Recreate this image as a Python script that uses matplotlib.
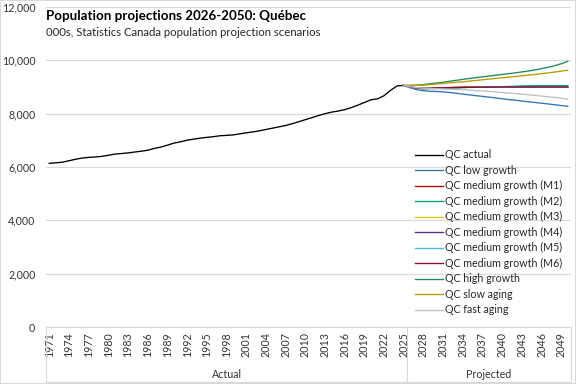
import matplotlib
matplotlib.use("Agg")
import matplotlib.pyplot as plt
from matplotlib.lines import Line2D
from matplotlib.patches import Rectangle
import numpy as np

plt.rcParams['font.family'] = ['Lato', 'DejaVu Sans']

# ---------------- data (thousands) ----------------
years = list(range(1971, 2051))
actual_years = list(range(1971, 2026))
actual = [6137, 6157, 6181, 6234, 6290, 6335, 6360, 6376, 6399, 6438,
          6484, 6505, 6528, 6561, 6592, 6628, 6696, 6747, 6819, 6896,
          6945, 7005, 7045, 7082, 7111, 7137, 7172, 7187, 7203, 7242,
          7281, 7316, 7356, 7407, 7455, 7506, 7555, 7623, 7696, 7774,
          7850, 7928, 7998, 8057, 8097, 8150, 8226, 8317, 8417, 8520,
          8555, 8672, 8873, 9040, 9060]

proj_years = list(range(2025, 2051))
low_growth = [9060, 8970, 8900, 8860, 8840, 8830, 8820, 8795, 8765, 8735,
              8705, 8675, 8650, 8620, 8590, 8560, 8530, 8505, 8475, 8445,
              8420, 8390, 8365, 8335, 8305, 8280]
med_m1 = [9060, 9000, 8960, 8945, 8950, 8960, 8970, 8975, 8980, 8985,
          8990, 8990, 8995, 8995, 9000, 9000, 9000, 9000, 9000, 9000,
          9000, 9000, 9000, 9000, 9000, 9000]
med_m2 = [9060, 9005, 8965, 8950, 8955, 8965, 8975, 8980, 8985, 8990,
          8995, 8995, 9000, 9005, 9010, 9015, 9020, 9030, 9040, 9045,
          9050, 9050, 9050, 9050, 9050, 9050]
med_m3 = [9060, 9002, 8962, 8948, 8952, 8962, 8972, 8977, 8982, 8987,
          8992, 8992, 8996, 8996, 9000, 9000, 9000, 9000, 9000, 9000,
          9000, 9000, 9000, 9000, 9000, 9000]
med_m4 = [9060, 8998, 8958, 8944, 8948, 8958, 8968, 8974, 8979, 8984,
          8989, 8990, 8994, 8995, 8998, 8999, 9000, 9000, 9000, 9000,
          9000, 9000, 9000, 9000, 9000, 9000]
med_m5 = [9060, 8990, 8945, 8930, 8935, 8945, 8955, 8962, 8970, 8976,
          8982, 8985, 8990, 8992, 8995, 8997, 8998, 8999, 9000, 9000,
          9000, 9000, 9000, 9000, 9000, 9000]
med_m6 = [9060, 9000, 8960, 8946, 8950, 8960, 8970, 8975, 8980, 8985,
          8990, 8990, 8995, 8995, 9000, 9000, 9000, 9000, 9000, 9000,
          9000, 9000, 9000, 9000, 9000, 9000]
high_growth = [9060, 9060, 9070, 9090, 9120, 9150, 9180, 9215, 9250, 9285,
               9320, 9350, 9380, 9410, 9440, 9470, 9500, 9530, 9565, 9600,
               9640, 9690, 9740, 9800, 9870, 9960]
slow_aging = [9060, 9055, 9060, 9070, 9090, 9110, 9135, 9155, 9175, 9195,
              9220, 9245, 9270, 9295, 9320, 9345, 9370, 9395, 9420, 9445,
              9470, 9500, 9530, 9560, 9595, 9630]
fast_aging = [9060, 9010, 8975, 8955, 8945, 8935, 8925, 8915, 8905, 8895,
              8880, 8865, 8850, 8835, 8815, 8795, 8775, 8755, 8735, 8710,
              8685, 8660, 8635, 8610, 8580, 8540]

series_names = ["QC actual", "QC low growth", "QC medium growth (M1)",
                "QC medium growth (M2)", "QC medium growth (M3)",
                "QC medium growth (M4)", "QC medium growth (M5)",
                "QC medium growth (M6)", "QC high growth", "QC slow aging",
                "QC fast aging"]
series_colors = ["#000000", "#2E75B6", "#C00000", "#00A36C", "#F2C200",
                 "#5B2C83", "#4BB4E6", "#8B0A2E", "#1E8A5E", "#B89B00",
                 "#BFBFBF"]
proj_series = [low_growth, med_m1, med_m2, med_m3, med_m4, med_m5, med_m6,
               high_growth, slow_aging, fast_aging]

group_labels = ["Actual", "Projected"]
title = "Population projections 2026-2050: Québec"
subtitle = "000s, Statistics Canada population projection scenarios"

# ---------------- figure ----------------
fig = plt.figure(figsize=(6, 4), dpi=96)
W, H = 576, 384
ax = fig.add_axes([46 / W, 1 - 327 / H, (571 - 46) / W, 320 / H])

idx = {y: i for i, y in enumerate(years)}
x_act = [idx[y] for y in actual_years]
x_proj = [idx[y] for y in proj_years]

ax.plot(x_act, actual, color=series_colors[0], lw=1.0, label=series_names[0])
for vals, name, col in zip(proj_series, series_names[1:], series_colors[1:]):
    ax.plot(x_proj, vals, color=col, lw=1.0, label=name)

ax.set_xlim(-0.5, len(years) - 0.5)
ax.set_ylim(0, 12000)
ax.set_yticks(np.arange(0, 12001, 2000))
ax.set_yticklabels([f"{v:,}" for v in range(0, 12001, 2000)])
ax.yaxis.grid(True, color="#D9D9D9", lw=0.9)
ax.set_axisbelow(True)
for s in ["top", "right", "left"]:
    ax.spines[s].set_visible(False)
ax.spines["bottom"].set_color("#D9D9D9")
ax.tick_params(axis="y", length=0, labelsize=8, colors="#333333", pad=8)

tick_pos = [i for i, y in enumerate(years) if (y - 1971) % 3 == 0]
ax.set_xticks(tick_pos)
ax.set_xticklabels([str(years[i]) for i in tick_pos], rotation=90,
                   fontsize=8, color="#333333")
ax.tick_params(axis="x", length=0, pad=4)

# multi-level category lines
trans = ax.get_xaxis_transform()
yb = -(382 - 327) / 320
split = idx[2025] + 0.5
for xv in [-0.5, split, len(years) - 0.5]:
    ax.add_line(Line2D([xv, xv], [0, yb], transform=trans, color="#D9D9D9",
                       lw=0.9, clip_on=False))
ax.add_line(Line2D([-0.5, len(years) - 0.5], [yb, yb], transform=trans,
                   color="#D9D9D9", lw=0.9, clip_on=False))
ylab = -(374 - 327) / 320
ax.text((-0.5 + split) / 2, ylab, group_labels[0], transform=trans,
        ha="center", va="center", fontsize=8, color="#333333")
ax.text((split + len(years) - 0.5) / 2, ylab, group_labels[1],
        transform=trans, ha="center", va="center", fontsize=8,
        color="#333333")

# titles
fig.text(46 / W, 1 - 16 / H, title, fontsize=10, fontweight="bold",
         ha="left", va="center")
fig.text(46 / W, 1 - 32 / H, subtitle, fontsize=8.5, ha="left",
         va="center", color="#262626")

# legend
leg = fig.legend(loc="upper left", bbox_to_anchor=(410 / W, 1 - 144 / H),
                 frameon=False, fontsize=8, handlelength=2.6,
                 handletextpad=0.15, labelspacing=0.42, borderpad=0)
for t in leg.get_texts():
    t.set_color("#262626")

fig.patches.append(Rectangle((0, 0), 1, 1, transform=fig.transFigure,
                             fill=False, edgecolor="#D9D9D9", lw=1.5))

fig.savefig("out.png", dpi=96)
